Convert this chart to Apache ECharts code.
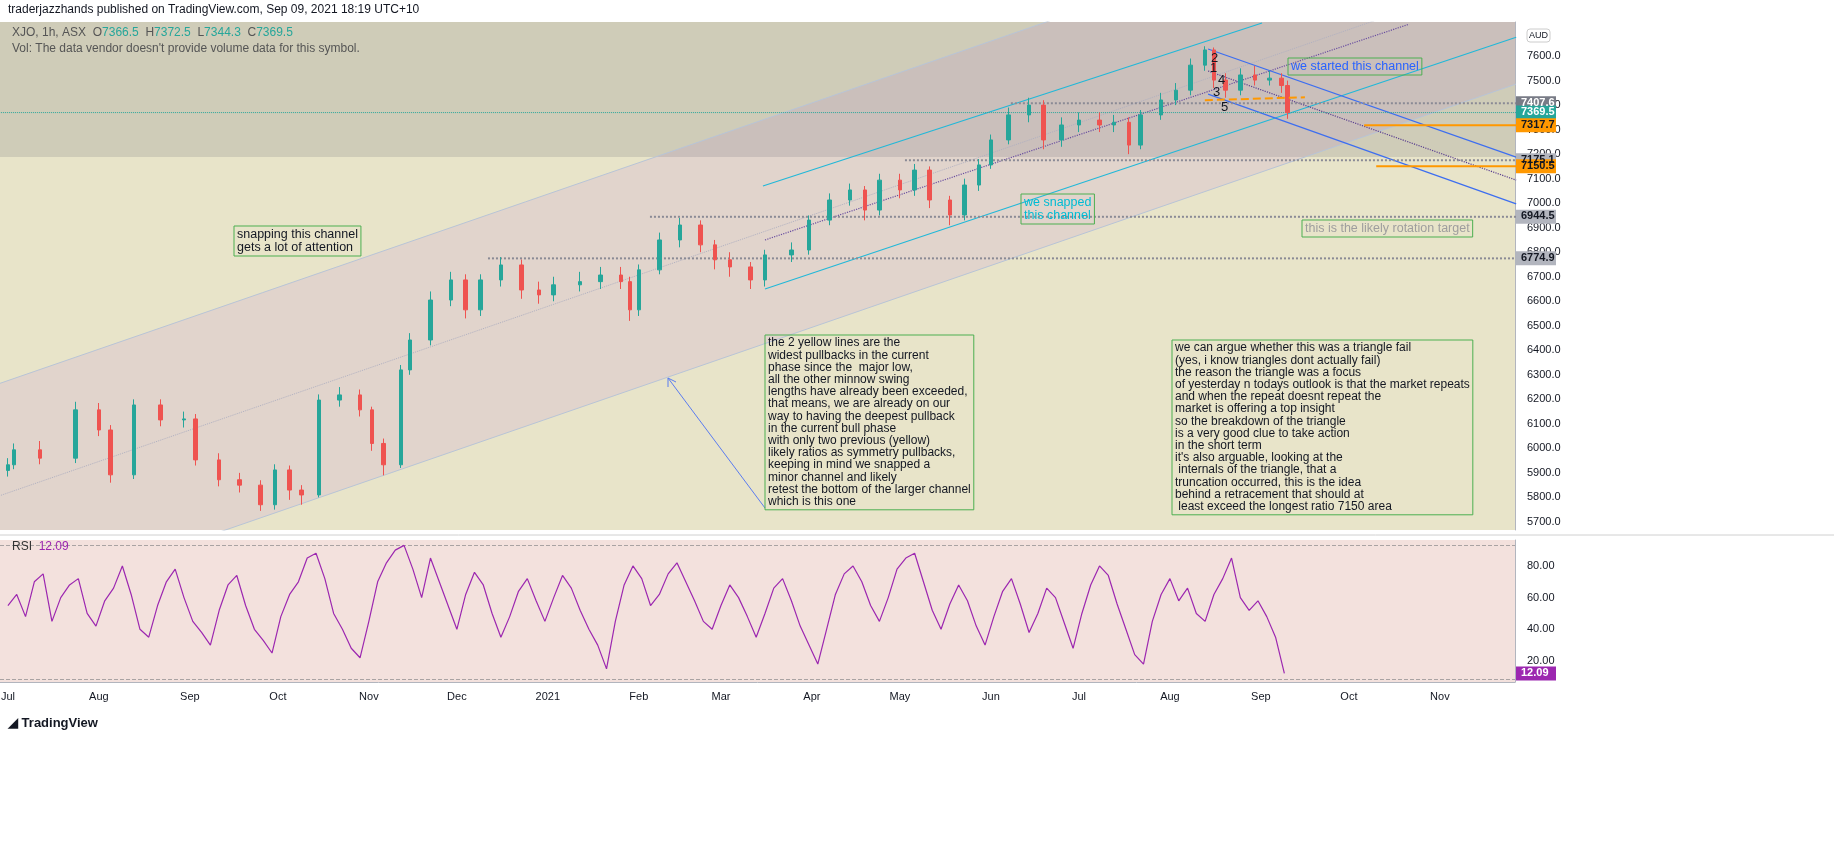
<!DOCTYPE html>
<html><head><meta charset="utf-8">
<script src="https://cdn.jsdelivr.net/npm/echarts@6/dist/echarts.min.js"></script>
<style>html,body{margin:0;padding:0;background:#fff}#c{width:1834px;height:866px}</style>
</head><body><div id="c"></div>
<script>
// ---- data (day offsets from 2020-07-01) ----
const candleDays = [0,2,11,23,31,35,43,52,60,64,72,79,86,91,96,100,106,113,120,124,128,134,137,144,151,156,161,168,175,181,186,195,202,209,212,215,222,229,236,241,246,253,258,267,273,280,287,292,297,304,309,314,321,326,331,335,341,348,353,359,365,372,377,382,386,393,398,403,408,411,415,420,425,430,434,436];
const openV = [5910,5933,5994,5960,6157,6075,5892,6177,6116,6120,5953,5872,5850,5770,5912,5830,5810,6197,6218,6157,6020,5933,6320,6442,6605,6687,6565,6687,6748,6646,6626,6667,6680,6707,6680,6565,6728,6850,6911,6830,6769,6740,6687,6789,6809,6931,7013,7054,6972,7094,7054,7135,7013,6952,7074,7156,7258,7360,7400,7258,7319,7339,7319,7330,7237,7360,7421,7461,7563,7625,7502,7461,7523,7502,7510,7480];
const closeV = [5933,5994,5960,6157,6075,5892,6177,6116,6120,5953,5872,5850,5770,5912,5830,5810,6197,6218,6157,6020,5933,6320,6442,6605,6687,6565,6687,6748,6646,6626,6667,6680,6707,6680,6565,6728,6850,6911,6830,6769,6740,6687,6789,6809,6931,7013,7054,6972,7094,7054,7135,7013,6952,7074,7156,7258,7360,7400,7258,7319,7339,7319,7330,7237,7360,7421,7461,7563,7625,7502,7461,7523,7502,7510,7480,7369.5];
const highV = [5960,6020,6030,6190,6185,6095,6200,6200,6150,6140,5980,5900,5870,5935,5930,5850,6220,6250,6240,6170,6040,6340,6470,6640,6720,6710,6710,6780,6770,6680,6700,6720,6740,6740,6700,6750,6880,6940,6930,6850,6800,6760,6810,6840,6950,7040,7080,7070,7120,7120,7160,7150,7030,7100,7180,7280,7390,7430,7420,7350,7370,7370,7360,7350,7380,7450,7490,7590,7640,7635,7530,7550,7560,7540,7530,7500];
const lowV = [5885,5915,5935,5940,6050,5860,5875,6090,6085,5930,5845,5820,5745,5750,5790,5770,5800,6170,6130,5990,5890,5920,6300,6420,6580,6530,6540,6660,6610,6590,6600,6640,6650,6650,6520,6540,6710,6820,6800,6730,6700,6650,6660,6760,6790,6910,6990,6930,6950,7020,7030,6980,6910,6930,7050,7140,7240,7330,7220,7230,7290,7290,7290,7200,7220,7340,7400,7440,7540,7470,7430,7440,7480,7480,7450,7344];
const rsiStepDays = 3;
const rsiV = [55,62,48,70,75,45,60,68,72,50, 42,58,66,80,62,40,35,55,70,78, 60,45,38,30,52,68,74,55,40,33, 25,48,62,70,85,88,72,50,40,28, 22,45,70,82,90,93,78,60,85,70, 55,40,62,76,68,50,35,48,64,72, 58,45,60,74,66,52,40,30,15,45, 68,80,72,55,62,75,82,70,58,45, 40,55,68,60,48,35,50,66,72,58, 42,30,18,40,62,75,80,70,55,45, 60,78,85,88,70,52,40,56,68,58, 42,30,48,64,72,56,38,50,66,60, 44,28,50,68,80,74,56,40,24,18, 45,62,72,58,66,50, 45,62,72,85,60,52,58,48,35,12.09];
const monthDays = [0,31,62,92,123,153,184,215,243,274,304,335,365,396,427,457,488];
const monthLabels = ['Jul','Aug','Sep','Oct','Nov','Dec','2021','Feb','Mar','Apr','May','Jun','Jul','Aug','Sep','Oct','Nov'];
const priceTicks = [5700,5800,5900,6000,6100,6200,6300,6400,6500,6600,6700,6800,6900,7000,7100,7200,7300,7400,7500,7600];
const rsiTicks = [20,40,60,80];
// annotation geometry in data units [day, price]
const bigBandLower = [[-3,5348],[514,7486]];
const bigBandUpper = [[-3,6264],[514,8401]];
const bigBandMid = [[-3,5806],[514,7944]];
const cyanUpper = [[257.3,7070],[427.4,7735]];
const cyanLower = [[258,6650],[514,7677]];
const cyanMid = [[258,6850],[477.5,7730]];
const blueUpper = [[409,7629],[514,7188]];
const blueLower = [[409,7445],[514,6997]];
const triDotted = [[409,7539],[514,7094]];
const orangeDash = [[407.9,7420],[442,7432]];
const levels = [{p:7407.6,from:341.8,bg:'#787b86',fg:'#fff'},{p:7175.1,from:305.7,bg:'#b2b5be',fg:'#131722'},{p:6944.5,from:218.8,bg:'#b2b5be',fg:'#131722'},{p:6774.9,from:163.6,bg:'#b2b5be',fg:'#131722'}];
const orangeLevels = [{p:7317.7,from:462.2},{p:7150.5,from:466.3}];
const lastPrice = 7369.5;
const grayZoneLow = 7188;

const DAY = 86400000, T0 = Date.UTC(2020,6,1);
const t = d => T0 + d*DAY;
const XMIN = t(-2.7), XMAX = t(513.6), YMIN = 5667, YMAX = 7739;
const chart = echarts.init(document.getElementById('c'));

const candles = candleDays.map((d,i)=>[t(d),openV[i],closeV[i],lowV[i],highV[i]]);
const rsi = rsiV.map((v,i)=>[t(i*rsiStepDays),v]);
const pts = a => a.map(p=>[t(p[0]),p[1]]);
function seg(data,color,type,width,z){return {type:'line',xAxisIndex:0,yAxisIndex:0,data:pts(data),showSymbol:false,silent:true,z:z||3,lineStyle:{color:color,width:width||1,type:type||'solid'},animation:false};}
function poly(getPts,color,z){return {type:'custom',xAxisIndex:0,yAxisIndex:0,clip:true,z:z||1,silent:true,animation:false,data:[0],
  renderItem:(params,api)=>({type:'polygon',shape:{points:getPts().map(p=>api.coord(p))},style:{fill:color}})};}

const series = [
  poly(()=>[[t(-3),bigBandLower[0][1]],[t(514),bigBandLower[1][1]],[t(514),bigBandUpper[1][1]],[t(-3),bigBandUpper[0][1]]],'#e1d4cc',1),
  poly(()=>[[XMIN,grayZoneLow],[XMAX,grayZoneLow],[XMAX,YMAX],[XMIN,YMAX]],'rgba(110,110,120,0.2)',2),
  seg(bigBandLower,'#b8c4d6','solid',1),
  seg(bigBandUpper,'#b8c4d6','solid',1),
  seg(bigBandMid,'#b0b0c0','dotted',1),
  seg(cyanUpper,'#22b8d8','solid',1.2),
  seg(cyanLower,'#22b8d8','solid',1.2),
  seg(cyanMid,'#6a4fa0','dotted',1.2),
  seg(blueUpper,'#3d6ef0','solid',1.2),
  seg(blueLower,'#3d6ef0','solid',1.2),
  seg(triDotted,'#5a3f90','dotted',1.2),
  seg(orangeDash,'#ff9800','dashed',2,6),
  seg([[-3,lastPrice],[514,lastPrice]],'#26a69a','dotted',1),
];
levels.forEach(l=>series.push(seg([[l.from,l.p],[514,l.p]],'#8a8a95','dotted',2)));
orangeLevels.forEach(l=>series.push(seg([[l.from,l.p],[514,l.p]],'#ff9800','solid',2,6)));
series.push({type:'candlestick',xAxisIndex:0,yAxisIndex:0,data:candles,barWidth:4,z:5,animation:false,
  itemStyle:{color:'#26a69a',color0:'#ef5350',borderColor:'#26a69a',borderColor0:'#ef5350'}});
series.push({type:'line',xAxisIndex:1,yAxisIndex:1,data:rsi,showSymbol:false,lineStyle:{color:'#9c27b0',width:1.2},animation:false,z:5,
  markLine:{silent:true,symbol:'none',label:{show:false},lineStyle:{color:'#a9a3a3',type:'dashed',width:1},data:[{yAxis:93.3},{yAxis:8.6}]}});

chart.setOption({
  animation:false,
  grid:[{left:0,top:22,width:1515,height:508,show:true,backgroundColor:'#e8e4c9',borderWidth:0},
        {left:0,top:540,width:1515,height:142,show:true,backgroundColor:'#f3e1dd',borderWidth:0}],
  xAxis:[{type:'time',gridIndex:0,min:XMIN,max:XMAX,axisLabel:{show:false},axisTick:{show:false},axisLine:{show:false},splitLine:{show:false}},
         {type:'time',gridIndex:1,min:XMIN,max:XMAX,axisLabel:{show:false},axisTick:{show:false},axisLine:{show:true,lineStyle:{color:'#b2b5be'}},splitLine:{show:false}}],
  yAxis:[{type:'value',gridIndex:0,position:'right',min:YMIN,max:YMAX,splitLine:{show:false},axisLine:{show:true,lineStyle:{color:'#b2b5be'}},axisTick:{show:false},
          axisLabel:{customValues:priceTicks,formatter:v=>v.toFixed(1),color:'#131722',fontSize:11,margin:12,fontFamily:'Liberation Sans'}},
         {type:'value',gridIndex:1,position:'right',min:6.7,max:96.4,splitLine:{show:false},axisLine:{show:true,lineStyle:{color:'#b2b5be'}},axisTick:{show:false},
          axisLabel:{customValues:rsiTicks,formatter:v=>v.toFixed(2),color:'#131722',fontSize:11,margin:12,fontFamily:'Liberation Sans'}}],
  series:series
});

const g = [];
const F = 'Liberation Sans';
const tx = (x,y,text,o)=>g.push(Object.assign({type:'text',x:x,y:y,z:50,style:Object.assign({text:text,fill:'#131722',font:'12px '+F},o||{})}));
tx(8,4,'traderjazzhands published on TradingView.com, Sep 09, 2021 18:19 UTC+10',{font:'12px '+F});
g.push({type:'text',x:12,y:27,z:50,style:{text:'{a|XJO, 1h, ASX  O}{b|7366.5}{a|  H}{b|7372.5}{a|  L}{b|7344.3}{a|  C}{b|7369.5}',rich:{a:{fill:'#555',font:'12px '+F},b:{fill:'#26a69a',font:'12px '+F}}}});
tx(12,43,"Vol: The data vendor doesn't provide volume data for this symbol.",{fill:'#555'});
g.push({type:'text',x:12,y:541,z:50,style:{text:'{a|RSI  }{b|12.09}',rich:{a:{fill:'#333',font:'12px '+F},b:{fill:'#9c27b0',font:'12px '+F}}}});
tx(8,717,'\u25e2 TradingView',{font:'bold 13px '+F,fill:'#131722'});
g.push({type:'line',shape:{x1:0,y1:535,x2:1834,y2:535},style:{stroke:'#d0d0d0',lineWidth:1},z:50});
monthDays.forEach((d,i)=>{const x=chart.convertToPixel({xAxisIndex:1},t(d)); g.push({type:'text',x:x,y:691,z:50,style:{text:monthLabels[i],fill:'#131722',font:'11px '+F,align:'center'}});});
const box=(x,y,text,color,fs,lh)=>g.push({type:'text',x:x,y:y,z:60,style:{text:text,fill:color,font:fs+'px '+F,lineHeight:lh,borderColor:'#4caf50',borderWidth:1,padding:[2,3,2,3]}});
box(234,226,'snapping this channel\ngets a lot of attention','#131722',12.5,13);
box(765,335,'the 2 yellow lines are the\nwidest pullbacks in the current\nphase since the  major low,\nall the other minnow swing\nlengths have already been exceeded,\nthat means, we are already on our\nway to having the deepest pullback\nin the current bull phase\nwith only two previous (yellow)\nlikely ratios as symmetry pullbacks,\nkeeping in mind we snapped a\nminor channel and likely\nretest the bottom of the larger channel\nwhich is this one','#131722',12,12.2);
box(1172,340,"we can argue whether this was a triangle fail\n(yes, i know triangles dont actually fail)\nthe reason the triangle was a focus\nof yesterday n todays outlook is that the market repeats\nand when the repeat doesnt repeat the\nmarket is offering a top insight\nso the breakdown of the triangle\nis a very good clue to take action\nin the short term\nit's also arguable, looking at the\n internals of the triangle, that a\ntruncation occurred, this is the idea\nbehind a retracement that should at\n least exceed the longest ratio 7150 area",'#131722',12,12.2);
box(1021,194,'we snapped\nthis channel','#00bcd4',12.5,13);
box(1288,58,'we started this channel','#2962ff',12.5,13);
box(1302,220,'this is the likely rotation target','#9e9e9e',12.5,13);
g.push({type:'line',z:55,shape:{x1:765,y1:508,x2:668,y2:378},style:{stroke:'#5b7cf0',lineWidth:1}});
g.push({type:'polyline',z:55,shape:{points:[[668,387],[668,378],[676,382]]},style:{stroke:'#5b7cf0',lineWidth:1,fill:null}});
[['2',1211,52],['1',1210,62],['4',1218,74],['3',1213,86],['5',1221,101]].forEach(n=>tx(n[1],n[2],n[0],{font:'13px '+F}));
const tag=(yAxisIndex,v,bg,fg)=>{const y=chart.convertToPixel({yAxisIndex:yAxisIndex},v);
  g.push({type:'rect',z:70,shape:{x:1516,y:y-7,width:40,height:14},style:{fill:bg}});
  g.push({type:'text',z:71,x:1521,y:y-6,style:{text:v.toFixed(yAxisIndex?2:1),fill:fg,font:'bold 11px '+F}});};
levels.forEach(l=>tag(0,l.p,l.bg,l.fg));
tag(0,lastPrice,'#26a69a','#fff');
orangeLevels.forEach(l=>tag(0,l.p,'#ff9800','#131722'));
tag(1,12.09,'#9c27b0','#fff');
g.push({type:'text',z:70,x:1527,y:29,style:{text:'AUD',fill:'#131722',font:'9px '+F,borderColor:'#ccc',borderWidth:1,borderRadius:3,padding:[2,2]}});
chart.setOption({graphic:g});
</script></body></html>
